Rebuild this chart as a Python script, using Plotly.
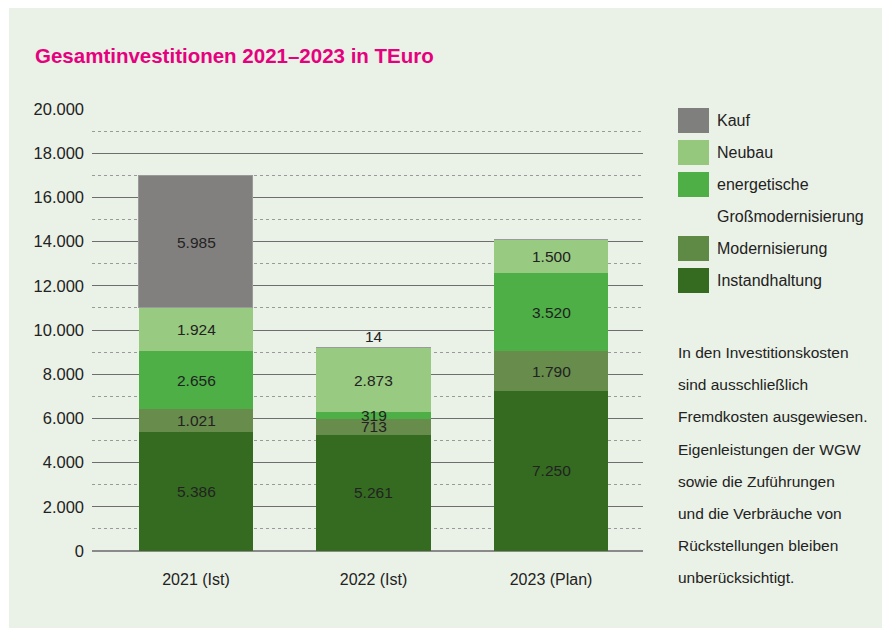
import plotly.graph_objects as go

# ---- data ----
categories = ["2021 (Ist)", "2022 (Ist)", "2023 (Plan)"]
instandhaltung = [5386, 5261, 7250]
modernisierung = [1021, 713, 1790]
energetische = [2656, 319, 3520]
neubau = [1924, 2873, 1500]
kauf = [5985, 14, 0]

series_names = ["Instandhaltung", "Modernisierung", "energetische Großmodernisierung", "Neubau", "Kauf"]
series_values = [instandhaltung, modernisierung, energetische, neubau, kauf]
series_colors = ["#356B20", "#678C4B", "#4DAF46", "#99CA81", "#82807F"]

y_ticks = list(range(0, 20001, 2000))

note_lines = [
    "In den Investitionskosten",
    "sind ausschließlich",
    "Fremdkosten ausgewiesen.",
    "Eigenleistungen der WGW",
    "sowie die Zuführungen",
    "und die Verbräuche von",
    "Rückstellungen bleiben",
    "unberücksichtigt.",
]

# page offset introduced by the HTML body margin
OX, OY = 8, 8
W, H = 890 - OX, 630 - OY
# plot-area edges in page pixels
L, R, T, B = 92, 643, 109, 551
FONT = "Liberation Sans, Arial, Helvetica, sans-serif"
TXT = "#222222"


def fx(px):
    return (px - L) / (R - L)


def fy(py):
    return (B - py) / (B - T)


fig = go.Figure()
for name, vals, col in zip(series_names, series_values, series_colors):
    is_kauf = name == "Kauf"
    fig.add_trace(go.Bar(
        x=categories, y=vals, name=name, width=0.645,
        marker=dict(color=col,
                    line=dict(color="#9a9a9a" if is_kauf else col, width=1 if is_kauf else 0)),
        showlegend=False, hoverinfo="skip",
    ))

annotations = []


def fmt(v):
    return f"{v:,}".replace(",", ".")


# value labels (midpoints of stacked segments)
for ci, cat in enumerate(categories):
    base = 0
    for name, vals in zip(series_names, series_values):
        v = vals[ci]
        if v <= 0:
            continue
        if v < 100:
            annotations.append(dict(x=cat, y=base + v, xref="x", yref="y", text=fmt(v),
                                    showarrow=False, yanchor="bottom", yshift=1,
                                    font=dict(family=FONT, size=15.5, color=TXT)))
        else:
            annotations.append(dict(x=cat, y=base + v / 2, xref="x", yref="y", text=fmt(v),
                                    showarrow=False, yanchor="middle",
                                    font=dict(family=FONT, size=15.5, color=TXT)))
        base += v

# title
annotations.append(dict(x=fx(33), y=fy(56), xref="paper", yref="paper",
                        text="<b>Gesamtinvestitionen 2021–2023 in TEuro</b>",
                        showarrow=False, xanchor="left", yanchor="middle",
                        font=dict(family=FONT, size=20.5, color="#E5007E")))

# legend (manual)
legend_items = [
    ("Kauf", "#7F7F7D", 120.5),
    ("Neubau", "#95C77C", 152.5),
    ("energetische", "#4DAF46", 184.5),
    ("Großmodernisierung", None, 216.5),
    ("Modernisierung", "#5F8A45", 248.5),
    ("Instandhaltung", "#356B20", 280.5),
]
shapes = []
# panel background
shapes.append(dict(type="rect", xref="paper", yref="paper", x0=fx(9), x1=fx(895),
                   y0=fy(0), y1=fy(628), fillcolor="#EAF1E6", line=dict(width=0),
                   layer="below"))
for label, col, cy in legend_items:
    if col:
        shapes.append(dict(type="rect", xref="paper", yref="paper",
                           x0=fx(678), x1=fx(709), y0=fy(cy - 12.5), y1=fy(cy + 12.5),
                           fillcolor=col, line=dict(width=0)))
    annotations.append(dict(x=fx(715), y=fy(cy), xref="paper", yref="paper", text=label,
                            showarrow=False, xanchor="left", yanchor="middle",
                            font=dict(family=FONT, size=16, color=TXT)))

for i, line in enumerate(note_lines):
    annotations.append(dict(x=fx(676), y=fy(352.5 + i * 32.2), xref="paper", yref="paper",
                            text=line, showarrow=False, xanchor="left", yanchor="middle",
                            font=dict(family=FONT, size=15.5, color=TXT)))

fig.update_layout(
    width=W, height=H,
    margin=dict(l=L - OX, r=890 - R, t=T - OY, b=630 - B, pad=0),
    barmode="stack", bargap=0,
    separators=",.",
    paper_bgcolor="white", plot_bgcolor="rgba(0,0,0,0)",
    font=dict(family=FONT, size=16, color=TXT),
    annotations=annotations, shapes=shapes,
    xaxis=dict(type="category", range=[-0.586, 2.518], showgrid=False, zeroline=False,
               showline=False, ticks="", ticklabelstandoff=17,
               tickfont=dict(family=FONT, size=16, color=TXT)),
    yaxis=dict(range=[0, 20000], tickvals=y_ticks, tickformat=",d",
               showgrid=True, gridcolor="#6e6e6e", gridwidth=1,
               zeroline=True, zerolinecolor="#8a8a8a", zerolinewidth=1.5,
               showline=False, ticks="", ticklabelstandoff=7,
               tickfont=dict(family=FONT, size=16.5, color=TXT),
               minor=dict(dtick=1000, showgrid=True, griddash="dot",
                          gridcolor="#9a9a9a", gridwidth=1)),
)

fig.write_html("out.html")
